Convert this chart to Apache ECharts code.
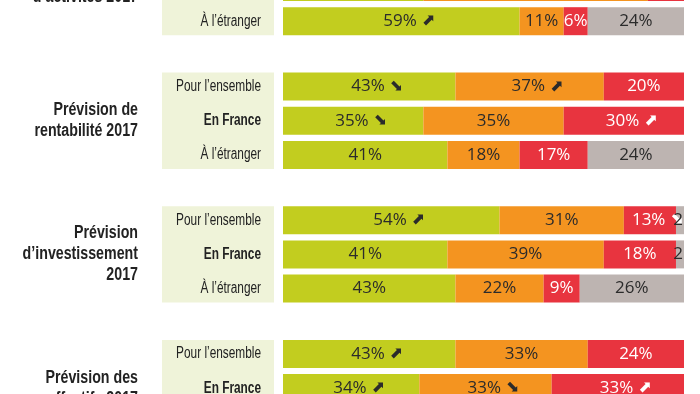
<!DOCTYPE html>
<html><head><meta charset="utf-8">
<script src="https://cdn.jsdelivr.net/npm/echarts@6/dist/echarts.min.js"></script>
<style>
html,body{margin:0;padding:0;background:#fff;width:700px;height:394px;overflow:hidden;position:relative}
#c{position:absolute;left:0;top:-80px;width:700px;height:600px}
</style>
</head><body><div id="c"></div>
<script>
// ---- data ----
const groupTitles = ['Prévision\nd’activités 2017', 'Prévision de\nrentabilité 2017', 'Prévision\nd’investissement\n2017', 'Prévision des\neffectifs 2017'];
const rowLabels = ['Pour l’ensemble', 'En France', 'À l’étranger'];
const seriesNames = ['En hausse', 'Stable', 'En baisse', 'Ne sait pas'];
// one inner array per group, rows: ensemble, France, étranger
const hausseValues = [[48, 35, 59], [43, 35, 41], [54, 41, 43], [43, 34, 40]];
const stableValues = [[40, 56, 11], [37, 35, 18], [31, 39, 22], [33, 33, 25]];
const baisseValues = [[12, 9, 6], [20, 30, 17], [13, 18, 9], [24, 33, 12]];
const nspValues = [[0, 0, 24], [0, 0, 24], [2, 2, 26], [0, 0, 23]];
// trend arrows ('' none, 'u' up, 'd' down)
const hausseTrend = [['', '', 'u'], ['d', 'd', ''], ['u', '', ''], ['u', 'u', '']];
const stableTrend = [['', '', ''], ['u', '', ''], ['', '', ''], ['', 'd', '']];
const baisseTrend = [['', '', ''], ['', 'u', ''], ['d', '', ''], ['', 'u', '']];
const nspTrend = [['', '', ''], ['', '', ''], ['', '', ''], ['', '', '']];

// ---- style / layout ----
const SHIFT = 80; // container is shifted up by this many px
const colors = ['#c2cd1f', '#f49420', '#e8343f', '#bdb4b1'];
const textColors = ['#2b2b2b', '#2b2b2b', '#ffffff', '#2b2b2b'];
const GRID_TOP0 = -64.3 + SHIFT, GROUP_PITCH = 133.7, BAND = 34.2, BAR = 28;
const GRID_LEFT = 283, GRID_RIGHT = 16;
const LABEL_FONT = "'Liberation Sans',Arial,sans-serif";
const VALFONT = "'Open Sans','Liberation Sans',sans-serif";
const ARROWS = { u: '⬈', d: '⬊' };

const valueSets = [hausseValues, stableValues, baisseValues, nspValues];
const trendSets = [hausseTrend, stableTrend, baisseTrend, nspTrend];

const grids = [], xAxes = [], yAxes = [], series = [], graphics = [];
groupTitles.forEach((title, g) => {
  const top = GRID_TOP0 + g * GROUP_PITCH;
  grids.push({ left: GRID_LEFT, right: GRID_RIGHT, top: top, height: BAND * 3 });
  xAxes.push({ gridIndex: g, type: 'value', min: 0, max: 100, show: false });
  yAxes.push({
    gridIndex: g, type: 'category', data: rowLabels, inverse: true,
    axisLine: { show: false }, axisTick: { show: false }, axisLabel: { show: false }
  });
  const pad = (BAND - BAR) / 2;
  graphics.push({
    type: 'rect', z: -1,
    shape: { x: 162, y: top + pad, width: 112, height: BAND * 2 + BAR },
    style: { fill: '#eff3d9' }
  });
  rowLabels.forEach((lab, r) => {
    graphics.push({
      type: 'text', x: 261, y: top + BAND * (r + 0.5), scaleX: 0.74,
      style: {
        text: lab, x: 0, y: 0, align: 'right', verticalAlign: 'middle',
        font: (lab === 'En France' ? 'bold ' : '') + '16px ' + LABEL_FONT, fill: '#222'
      }
    });
  });
  graphics.push({
    type: 'text', x: 138, y: top + BAND * 1.5, scaleX: 0.79,
    style: {
      text: title, x: 0, y: 0, align: 'right', verticalAlign: 'middle',
      font: 'bold 18px ' + LABEL_FONT, lineHeight: 21, fill: '#222'
    }
  });
  valueSets.forEach((vals, s) => {
    const tc = textColors[s];
    series.push({
      name: seriesNames[s], type: 'bar', stack: 'g' + g,
      xAxisIndex: g, yAxisIndex: g, barWidth: BAR,
      itemStyle: { color: colors[s] },
      label: {
        show: true, position: 'inside',
        rich: {
          v: { fontFamily: VALFONT, fontSize: 17, color: tc },
          a: { fontFamily: "'DejaVu Sans'", fontSize: 16, color: tc }
        }
      },
      data: vals[g].map((v, r) => {
        const tr = trendSets[s][g][r];
        const txt = v < 5 ? String(v) : v + '%';
        const item = { value: v };
        if (v === 0) {
          item.label = { show: false };
        } else if (tr) {
          item.label = { formatter: '{v|' + txt + '}{a| ' + ARROWS[tr] + '}', offset: [8, 0] };
        } else if (v < 5) {
          item.label = { formatter: '{v|' + txt + '}', offset: [-2, 0] };
        } else {
          item.label = { formatter: '{v|' + txt + '}' };
        }
        return item;
      })
    });
  });
});

const chart = echarts.init(document.getElementById('c'), null, { renderer: 'canvas' });
chart.setOption({
  animation: false,
  backgroundColor: '#ffffff',
  grid: grids, xAxis: xAxes, yAxis: yAxes, series: series,
  graphic: { elements: graphics }
});
</script>
</body></html>
